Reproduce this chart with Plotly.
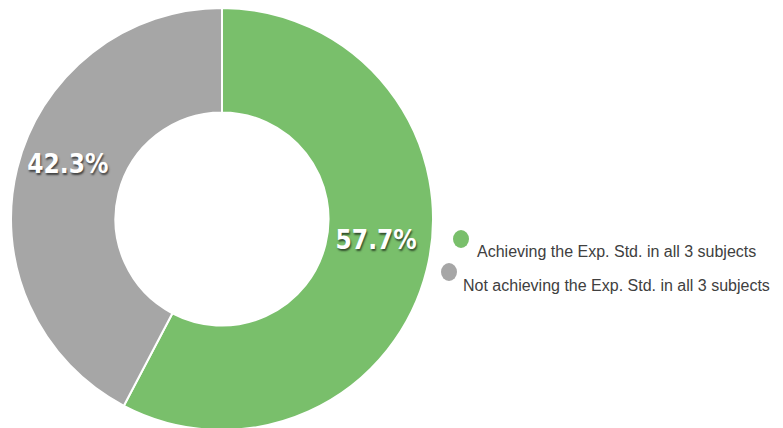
import plotly.graph_objects as go

categories = ["Achieving the Exp. Std. in all 3 subjects",
              "Not achieving the Exp. Std. in all 3 subjects"]
values = [57.7, 42.3]
colors = ["#79BF6B", "#A6A6A6"]

W, H = 783, 428
OFF = 8  # page body margin offset

fig = go.Figure(go.Pie(
    labels=categories,
    values=values,
    hole=0.505,
    sort=False,
    direction="clockwise",
    rotation=0,
    marker=dict(colors=colors, line=dict(color="white", width=2)),
    texttemplate="%{value:.1f}%<br> ",
    textposition="inside",
    insidetextorientation="horizontal",
    textfont=dict(family="DejaVu Sans Condensed", size=26, color="white",
                  weight="bold", shadow="1px 2px 2px rgba(0,0,0,0.6)"),
    domain=dict(x=[(11 - OFF) / W, (433 - OFF) / W],
                y=[1 - 422 / H, 1]),
    showlegend=False,
    hoverinfo="label+percent",
))

# custom staggered legend
legend_items = [
    dict(cx=461, cy=239, tx=475, ty=251),
    dict(cx=449, cy=272, tx=461, ty=285),
]
for item, name, col in zip(legend_items, categories, colors):
    cx, cy = item["cx"] - OFF, item["cy"] - OFF
    tx, ty = item["tx"] - OFF, item["ty"] - OFF
    fig.add_shape(type="circle", xref="paper", yref="paper",
                  x0=(cx - 8) / W, x1=(cx + 8) / W,
                  y0=1 - (cy + 9) / H, y1=1 - (cy - 9) / H,
                  fillcolor=col, line=dict(width=0))
    fig.add_annotation(x=tx / W, y=1 - ty / H, xref="paper", yref="paper",
                       text=name, showarrow=False, xanchor="left", yanchor="middle",
                       font=dict(family="Liberation Sans, Arial", size=16, color="#404040"))

fig.update_layout(width=W, height=H, margin=dict(l=0, r=0, t=0, b=0),
                  paper_bgcolor="white", plot_bgcolor="white")
fig.write_html("out.html")
